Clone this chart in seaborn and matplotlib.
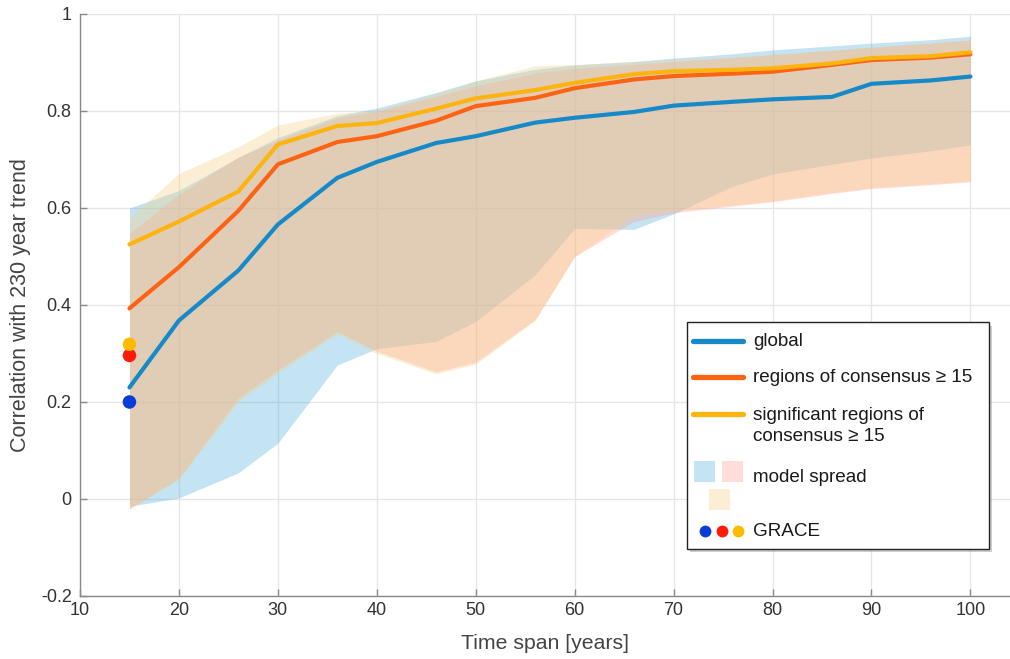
import numpy as np
import pandas as pd
import matplotlib.pyplot as plt
import seaborn as sns
from matplotlib.patches import Rectangle
from matplotlib.lines import Line2D

# time span of the trend [years]
span = [15, 20, 26, 30, 36, 40, 46, 50, 56, 60, 66, 70, 76, 80, 86, 90, 96, 100]

# ensemble mean correlation
glob = [0.230, 0.368, 0.471, 0.566, 0.662, 0.695, 0.734, 0.748, 0.776, 0.786, 0.798, 0.811,
        0.819, 0.824, 0.829, 0.856, 0.863, 0.871]
cons = [0.393, 0.478, 0.594, 0.690, 0.736, 0.748, 0.780, 0.810, 0.827, 0.847, 0.865, 0.872,
        0.877, 0.881, 0.895, 0.905, 0.910, 0.917]
sig = [0.525, 0.572, 0.634, 0.731, 0.769, 0.775, 0.805, 0.826, 0.843, 0.858, 0.876, 0.882,
       0.885, 0.888, 0.898, 0.909, 0.913, 0.921]

# model spread (min / max)
glob_lo = [-0.015, 0.002, 0.054, 0.115, 0.276, 0.310, 0.325, 0.366, 0.462, 0.558, 0.556, 0.588,
           0.645, 0.670, 0.690, 0.703, 0.718, 0.730]
glob_hi = [0.600, 0.636, 0.704, 0.745, 0.790, 0.806, 0.838, 0.862, 0.886, 0.895, 0.902, 0.909,
           0.918, 0.926, 0.934, 0.940, 0.947, 0.954]
cons_lo = [-0.020, 0.043, 0.208, 0.266, 0.345, 0.305, 0.262, 0.282, 0.370, 0.500, 0.572, 0.590,
           0.604, 0.613, 0.630, 0.640, 0.648, 0.654]
cons_hi = [0.548, 0.628, 0.705, 0.740, 0.786, 0.800, 0.830, 0.852, 0.878, 0.888, 0.896, 0.902,
           0.910, 0.916, 0.925, 0.931, 0.940, 0.946]
sig_lo = [-0.020, 0.040, 0.200, 0.260, 0.340, 0.300, 0.258, 0.278, 0.368, 0.500, 0.585, 0.594,
          0.606, 0.615, 0.632, 0.642, 0.650, 0.656]
sig_hi = [0.580, 0.671, 0.726, 0.771, 0.795, 0.801, 0.836, 0.862, 0.893, 0.896, 0.902, 0.906,
          0.912, 0.917, 0.926, 0.932, 0.941, 0.947]

# GRACE
grace_x = [15, 15, 15]
grace_y = [0.200, 0.296, 0.319]
grace_c = ['#0a3cd6', '#ff1a0a', '#ffbb00']

labels = ['global', 'regions of consensus \u2265 15',
          'significant regions of\nconsensus \u2265 15', 'model spread', 'GRACE']

c_glob, c_cons, c_sig = '#1689c9', '#fc6414', '#fdb40f'
f_glob, f_cons, f_sig = '#56b2dd', '#ffa091', '#f4cf87'
fa = 0.35

df = pd.DataFrame({'span': span, 'global': glob, 'cons': cons, 'sig': sig})

sns.set_theme(style='whitegrid')
plt.rcParams['font.family'] = ['Liberation Sans', 'DejaVu Sans']

W, H = 1010, 659
fig = plt.figure(figsize=(W / 100, H / 100), dpi=100)
ax = fig.add_axes([0.0792, 0.0956, 0.9208, 0.8832])

ax.fill_between(span, glob_lo, glob_hi, color=f_glob, alpha=fa, lw=0)
ax.fill_between(span, cons_lo, cons_hi, color=f_cons, alpha=fa, lw=0)
ax.fill_between(span, sig_lo, sig_hi, color=f_sig, alpha=fa, lw=0)

sns.lineplot(data=df, x='span', y='global', color=c_glob, lw=3, ax=ax)
sns.lineplot(data=df, x='span', y='cons', color=c_cons, lw=3, ax=ax)
sns.lineplot(data=df, x='span', y='sig', color=c_sig, lw=3, ax=ax)

ax.scatter(grace_x, grace_y, c=grace_c, s=95, zorder=5, edgecolors='none')

ax.set_xlim(10, 104)
ax.set_ylim(-0.2, 1)
ax.set_xticks(range(10, 101, 10))
ax.set_yticks([-0.2, 0, 0.2, 0.4, 0.6, 0.8, 1])
ax.set_yticklabels(['-0.2', '0', '0.2', '0.4', '0.6', '0.8', '1'])
ax.grid(True, color='#e6e6e6', lw=1)
ax.set_facecolor('white')
for s in ['top', 'right']:
    ax.spines[s].set_visible(False)
for s in ['left', 'bottom']:
    ax.spines[s].set_color('#8a8a8a')
    ax.spines[s].set_linewidth(1)
ax.tick_params(direction='in', length=5, width=1, color='#8a8a8a', labelsize=13,
               labelcolor='#333333', bottom=True, left=True)
ax.tick_params(axis='x', pad=4)
ax.tick_params(axis='y', pad=6)
ax.set_xlabel('Time span [years]', fontsize=15.3, color='#444444', labelpad=11)
ax.set_ylabel('Correlation with 230 year trend', fontsize=15.5, color='#444444', labelpad=7)


# legend box, laid out in figure pixels like the original
def fx(px):
    return px / W


def fy(py):
    return 1 - py / H


tf = fig.transFigure
fig.patches.append(Rectangle((fx(690), fy(552)), fx(302), 226 / H, transform=tf,
                             fc='#9a9a9a', ec='none', alpha=0.5, zorder=8))
fig.patches.append(Rectangle((fx(687), fy(549)), fx(302), 227 / H, transform=tf,
                             fc='white', ec='#222222', lw=1, zorder=9))

fs = 13.6
for y, c in zip([341, 377, 414], [c_glob, c_cons, c_sig]):
    fig.lines.append(Line2D([fx(693), fx(743)], [fy(y), fy(y)], color=c, lw=3.8,
                            transform=tf, zorder=10))
text_y = [341, 377, 426, 478, 531]
for lab, y in zip(labels, text_y):
    fig.text(fx(753), fy(y), lab, fontsize=fs, color='#1a1a1a', va='center', ha='left',
             linespacing=1.35, zorder=10)

for (x0, y0), fc in zip([(694, 482), (722, 482), (709, 510)], [f_glob, f_cons, f_sig]):
    fig.patches.append(Rectangle((fx(x0), fy(y0)), fx(21), 21 / H, transform=tf,
                                 fc=fc, alpha=fa, ec='none', zorder=10))
for x, c in zip([705, 722, 738], grace_c):
    fig.lines.append(Line2D([fx(x)], [fy(531)], ls='none', marker='o', ms=8.5, mfc=c,
                            mec='none', transform=tf, zorder=10))

fig.savefig('out.png', dpi=100)
